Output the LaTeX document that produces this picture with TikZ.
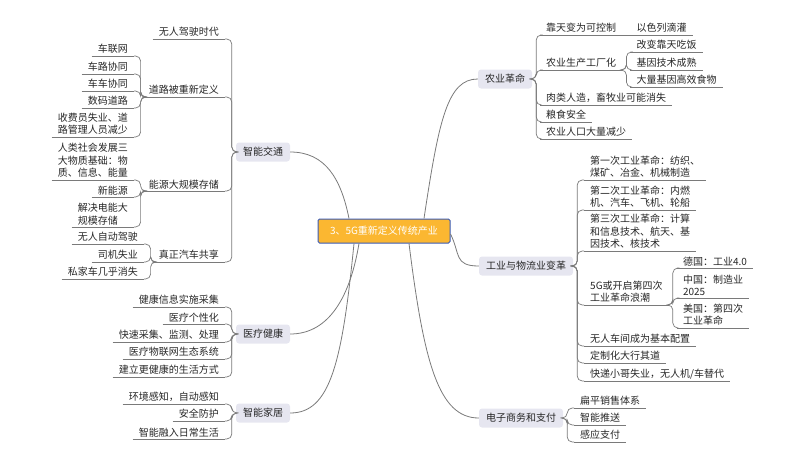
\documentclass[tikz,border=0pt]{standalone}
\usepackage{fontspec}
\setmainfont{Noto Sans CJK SC}
\begin{document}
\begin{tikzpicture}[x=1pt,y=-1pt,
  every node/.style={font=\fontsize{10}{12.5}\selectfont, text=black!85},
  main/.style={fill=mainbg, rounded corners=3pt, minimum height=19pt, inner xsep=7pt},
  ctr/.style={fill=ctrbg, draw=ctrbd, line width=1pt, rounded corners=1.5pt, minimum width=132pt, minimum height=24pt, text=white},
  rl/.style={anchor=south west, inner xsep=6pt, inner ysep=2pt, align=left,
     append after command={(\tikzlastnode.south west) edge[ln] (\tikzlastnode.south east)}},
  ll/.style={anchor=south east, inner xsep=6pt, inner ysep=2pt, align=left,
     append after command={(\tikzlastnode.south west) edge[ln] (\tikzlastnode.south east)}},
  ln/.style={draw=lc, line width=0.7pt},
  br/.style={draw=lc, line width=0.7pt, rounded corners=5pt},
  conn/.style={draw=lc, line width=0.8pt}]
\definecolor{mainbg}{HTML}{E6E6F0}
\definecolor{ctrbg}{HTML}{FBB731}
\definecolor{ctrbd}{HTML}{3A5BB8}
\definecolor{lc}{HTML}{7A7A7A}
\useasboundingbox (0,0) rectangle (800,463);

\node[ctr] (c) at (384,231) {3、5G重新定义传统产业};

% left main nodes
\node[main] (zt) at (263,152) {智能交通};
\node[main] (yl) at (263,334) {医疗健康};
\node[main] (jj) at (263,413) {智能家居};
% right main nodes
\node[main] (ny) at (505,79) {农业革命};
\node[main] (gy) at (526,266) {工业与物流业变革};
\node[main] (ds) at (521,418) {电子商务和支付};

\draw[conn] ([xshift=-35]c.north) .. controls +(-8,-40) and +(35,0) .. (zt.east);
\draw[conn] ([xshift=-25]c.south) .. controls +(-10,60) and +(35,0) .. (yl.east);
\draw[conn] ([xshift=-30]c.south) .. controls +(-12,120) and +(40,0) .. (jj.east);
\draw[conn] ([xshift=40]c.north) .. controls +(15,-100) and +(-30,0) .. (ny.west);
\draw[conn] ([yshift=-3]c.east) .. controls +(10,20) and +(-25,0) .. (gy.west);
\draw[conn] ([xshift=25]c.south) .. controls +(15,120) and +(-40,0) .. (ds.west);

% 智能交通
\node[ll] (a1) at (225,39) {无人驾驶时代};
\node[ll] (a2) at (225,97) {道路被重新定义};
\node[ll] (a3) at (225,191) {能源大规模存储};
\node[ll] (a4) at (225,262) {真正汽车共享};
\foreach \n in {a1,a2,a3,a4} \draw[br] (zt.west) -- ++(-4,0) |- (\n.south east);
\node[ll] (b1) at (134,56) {车联网};
\node[ll] (b2) at (134,74) {车路协同};
\node[ll] (b3) at (134,91) {车车协同};
\node[ll] (b4) at (134,108) {数码道路};
\node[ll] (b5) at (134,137) {收费员失业、道\\路管理人员减少};
\foreach \n in {b1,b2,b3,b4,b5} \draw[br] (a2.south west) -- ++(-2,0) |- (\n.south east);
\node[ll] (c1) at (134,180) {人类社会发展三\\大物质基础：物\\质、信息、能量};
\node[ll] (c2) at (134,197) {新能源};
\node[ll] (c3) at (134,227) {解决电能大\\规模存储};
\foreach \n in {c1,c2,c3} \draw[br] (a3.south west) -- ++(-2,0) |- (\n.south east);
\node[ll] (d1) at (144,244) {无人自动驾驶};
\node[ll] (d2) at (144,262) {司机失业};
\node[ll] (d3) at (144,279) {私家车几乎消失};
\foreach \n in {d1,d2,d3} \draw[br] (a4.south west) -- ++(-2,0) |- (\n.south east);

% 医疗健康
\node[ll] (e1) at (225,307) {健康信息实施采集};
\node[ll] (e2) at (225,324) {医疗个性化};
\node[ll] (e3) at (225,342) {快速采集、监测、处理};
\node[ll] (e4) at (225,359) {医疗物联网生态系统};
\node[ll] (e5) at (225,377) {建立更健康的生活方式};
\foreach \n in {e1,e2,e3,e4,e5} \draw[br] (yl.west) -- ++(-4,0) |- (\n.south east);

% 智能家居
\node[ll] (f1) at (225,404) {环境感知，自动感知};
\node[ll] (f2) at (225,421) {安全防护};
\node[ll] (f3) at (225,439) {智能融入日常生活};
\foreach \n in {f1,f2,f3} \draw[br] (jj.west) -- ++(-4,0) |- (\n.south east);

% 农业革命
\node[rl] (g1) at (540,35) {靠天变为可控制};
\node[rl] (g1b) at ([xshift=8]g1.south east) {以色列滴灌};
\draw[ln] (g1.south east) -- (g1b.south west);
\node[rl] (g2) at (540,70) {农业生产工厂化};
\node[rl] (g3) at (540,105) {肉类人造，畜牧业可能消失};
\node[rl] (g4) at (540,122) {粮食安全};
\node[rl] (g5) at (540,139) {农业人口大量减少};
\foreach \n in {g1,g2,g3,g4,g5} \draw[br] (ny.east) -- ++(4,0) |- (\n.south west);
\node[rl] (h1) at ([xshift=8]g2.south east |- 0,52) {改变靠天吃饭};
\node[rl] (h2) at ([xshift=8]g2.south east) {基因技术成熟};
\node[rl] (h3) at ([xshift=8]g2.south east |- 0,87) {大量基因高效食物};
\foreach \n in {h1,h2,h3} \draw[br] (g2.south east) -- ++(4,0) |- (\n.south west);

% 工业与物流业变革
\node[rl] (i1) at (584,180) {第一次工业革命：纺织、\\煤矿、冶金、机械制造};
\node[rl] (i2) at (584,210) {第二次工业革命：内燃\\机、汽车、飞机、轮船};
\node[rl] (i3) at (584,251) {第三次工业革命：计算\\和信息技术、航天、基\\因技术、核技术};
\node[rl] (i4) at (584,305) {5G或开启第四次\\工业革命浪潮};
\node[rl] (i5) at (584,346) {无人车间成为基本配置};
\node[rl] (i6) at (584,363) {定制化大行其道};
\node[rl] (i7) at (584,381) {快递小哥失业，无人机/车替代};
\foreach \n in {i1,i2,i3,i4,i5,i6,i7} \draw[br] (gy.east) -- ++(4,0) |- (\n.south west);
\node[rl] (j1) at ([xshift=8]i4.south east |- 0,268) {德国：工业4.0};
\node[rl] (j2) at ([xshift=8]i4.south east |- 0,298) {中国：制造业\\2025};
\node[rl] (j3) at ([xshift=8]i4.south east |- 0,328) {美国：第四次\\工业革命};
\foreach \n in {j1,j2,j3} \draw[br] (i4.south east) -- ++(4,0) |- (\n.south west);

% 电子商务和支付
\node[rl] (k1) at (574,408) {扁平销售体系};
\node[rl] (k2) at (574,425) {智能推送};
\node[rl] (k3) at (574,442) {感应支付};
\foreach \n in {k1,k2,k3} \draw[br] (ds.east) -- ++(4,0) |- (\n.south west);
\end{tikzpicture}
\end{document}
